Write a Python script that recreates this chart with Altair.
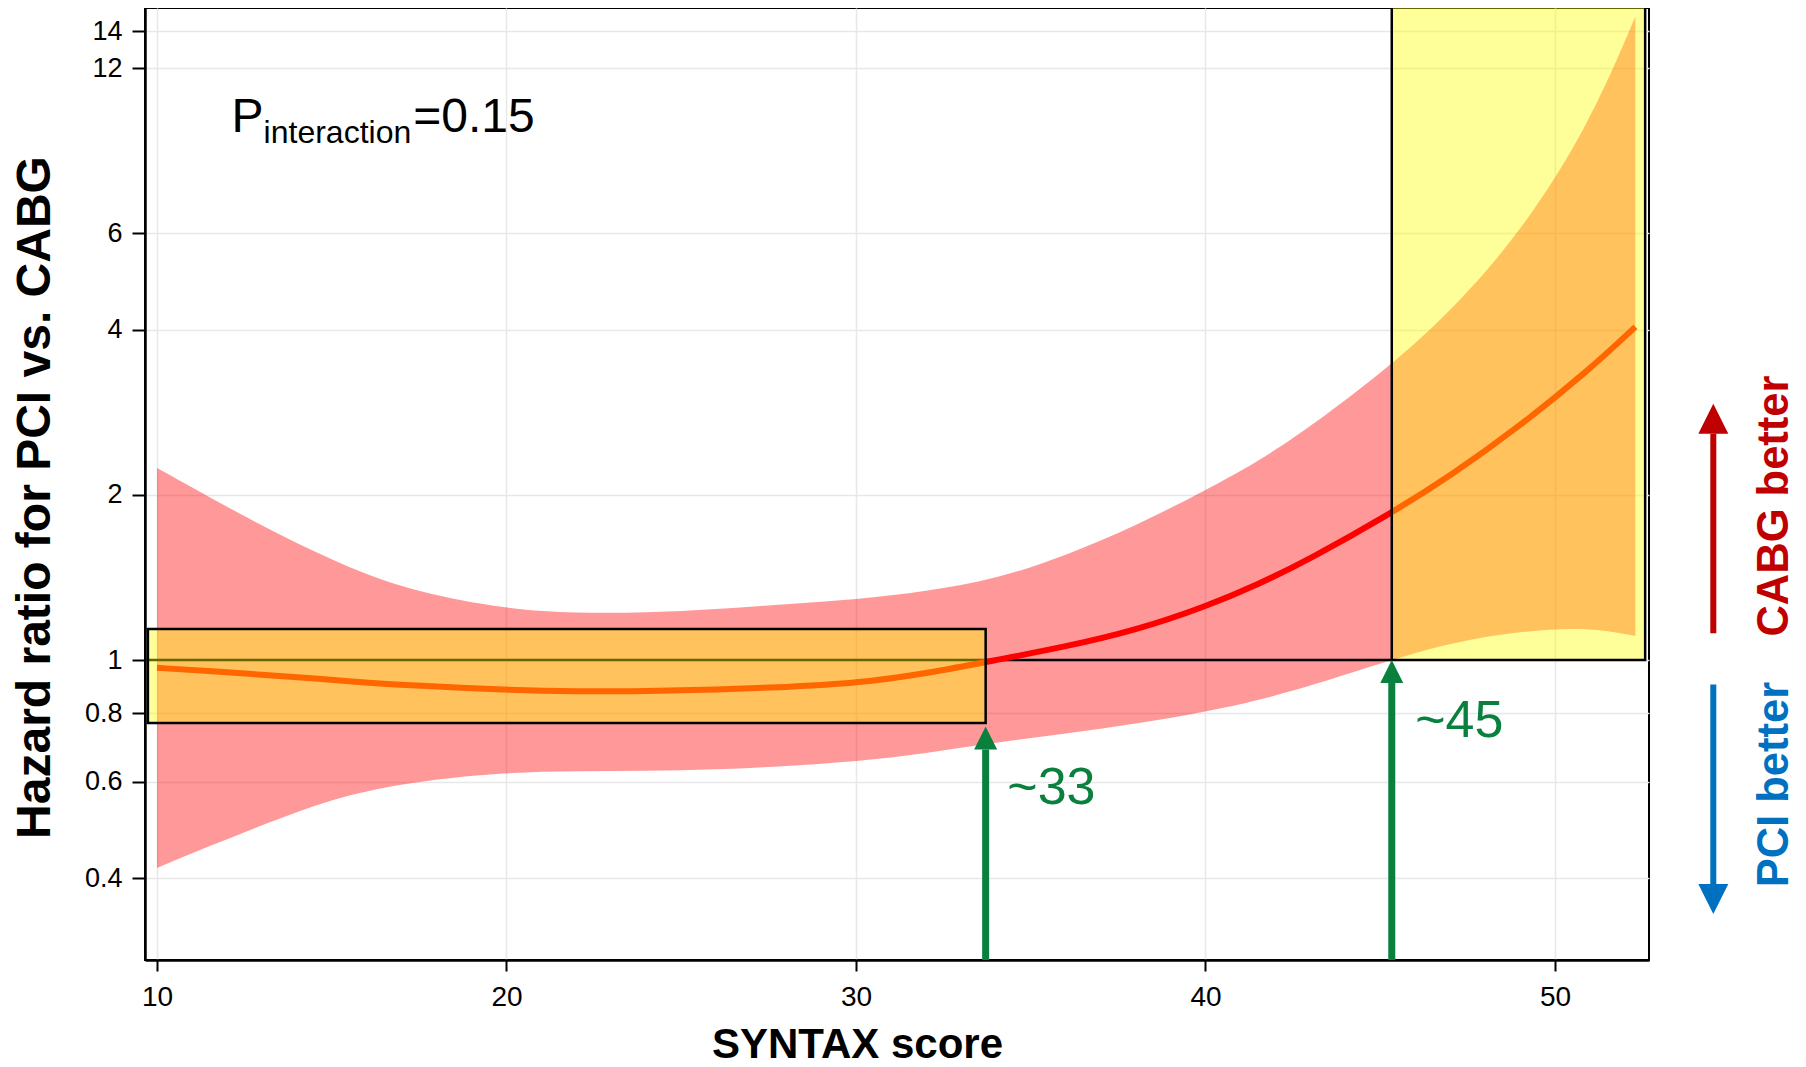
import altair as alt
import pandas as pd

# ---------------- data ----------------
syntax = [10, 11.5, 13.5, 15.5, 17.5, 20, 22, 24, 26, 28, 30, 32, 34, 36, 38, 40,
          41.5, 43, 45.3, 47, 49, 51, 52.3]
hr = [0.968, 0.955, 0.936, 0.915, 0.897, 0.882, 0.876, 0.878, 0.883, 0.893, 0.907,
      0.945, 1.0, 1.058, 1.133, 1.251, 1.373, 1.53, 1.85, 2.164, 2.67, 3.39, 4.05]
lower = [0.418, 0.458, 0.515, 0.571, 0.602, 0.624, 0.628, 0.628, 0.631, 0.641, 0.653,
         0.676, 0.708, 0.734, 0.765, 0.805, 0.844, 0.897, 1.0, 1.075, 1.13, 1.148, 1.106]
upper = [2.24, 1.98, 1.69, 1.47, 1.325, 1.239, 1.217, 1.220, 1.237, 1.265, 1.290,
         1.333, 1.405, 1.55, 1.755, 2.04, 2.30, 2.66, 3.44, 4.31, 5.98, 9.5, 14.9]

x_ticks = [10, 20, 30, 40, 50]
y_ticks = [0.4, 0.6, 0.8, 1, 2, 4, 6, 12, 14]
X_DOMAIN = [9.657, 52.69]
Y_DOMAIN = [0.284, 15.44]

# highlighted boxes
box_x1 = [9.74, 45.33]
box_x2 = [33.71, 52.58]
box_y1 = [0.768, 1.0]
box_y2 = [1.139, 15.6]

# HR = 1 reference segment
ref_x1 = [9.74]
ref_x2 = [45.33]
ref_y = [1.0]

# green cut-off arrows
cut_x = [33.71, 45.33]
cut_tip = [0.757, 1.0]
cut_base = [0.687, 0.909]
cut_labels = ["~33", "~45"]
cut_label_x = [34.33, 46.0]
cut_label_y = [0.546, 0.723]

# side arrows (CABG better / PCI better)
side_x = 54.53
red_start, red_base, red_tip = 1.119, 2.587, 2.933
blue_start, blue_base, blue_tip = 0.903, 0.3885, 0.3444
side_text_x = 56.68
side_texts = ["CABG better", "PCI better"]
side_text_y = [1.909, 0.593]

# P interaction annotation
p_texts = ["P", "interaction", "=0.15"]
p_x = [12.13, 13.05, 17.33]
p_y = [9.19, 8.77, 9.19]
p_size = [48, 32, 48]

FONT = "Liberation Sans"
GREEN = "#0a803e"
RED_DARK = "#c00000"
BLUE = "#0070c0"

xscale = alt.Scale(domain=X_DOMAIN, nice=False, zero=False)
yscale = alt.Scale(type="log", domain=Y_DOMAIN, nice=False)

x_axis = alt.Axis(values=x_ticks, title="SYNTAX score", titleFontSize=42,
                  titleFontWeight="bold", titleX=712, titleY=97.5,
                  titleBaseline="alphabetic", titleAlign="center",
                  labelFontSize=28, labelPadding=12, tickSize=11, format="d")
y_axis = alt.Axis(values=y_ticks, title="Hazard ratio for PCI vs. CABG",
                  titleFontSize=48, titleFontWeight="bold", titleAngle=270,
                  titleX=-96, titleY=489, titleBaseline="alphabetic",
                  titleAlign="center", labelFontSize=27, labelPadding=10,
                  tickSize=13, format="~g")


def X(field):
    return alt.X(field, type="quantitative", scale=xscale, axis=x_axis)


def Y(field):
    return alt.Y(field, type="quantitative", scale=yscale, axis=y_axis)


curve = pd.DataFrame({"syntax": syntax, "hr": hr, "lower": lower, "upper": upper})
boxes = pd.DataFrame({"x1": box_x1, "x2": box_x2, "y1": box_y1, "y2": box_y2})
ref = pd.DataFrame({"x1": ref_x1, "x2": ref_x2, "y": ref_y})
cuts = pd.DataFrame({"x": cut_x, "tip": cut_tip, "base": cut_base,
                     "bottom": [Y_DOMAIN[0]] * len(cut_x)})
cut_lab = pd.DataFrame({"x": cut_label_x, "y": cut_label_y, "t": cut_labels})
red_df = pd.DataFrame({"x": [side_x], "s": [red_start], "b": [red_base], "tip": [red_tip]})
blue_df = pd.DataFrame({"x": [side_x], "s": [blue_start], "b": [blue_base], "tip": [blue_tip]})
side_df = pd.DataFrame({"x": [side_text_x] * 2, "y": side_text_y, "t": side_texts,
                        "c": [RED_DARK, BLUE]})
p_df = pd.DataFrame({"x": p_x, "y": p_y, "t": p_texts, "s": p_size})

band = alt.Chart(curve).mark_area(color="#ff0000", opacity=0.4, interpolate="basis").encode(
    x=X("syntax"), y=Y("lower"), y2="upper",
)

ref_rule = alt.Chart(ref).mark_rule(color="black", strokeWidth=2.5).encode(
    x=X("x1"), x2="x2", y=Y("y"),
)

line = alt.Chart(curve).mark_line(color="#ff0000", strokeWidth=6, interpolate="basis").encode(
    x=X("syntax"), y=Y("hr"),
)

rects = alt.Chart(boxes).mark_rect(fill="#ffff00", fillOpacity=0.4, stroke="black",
                                   strokeWidth=2.5).encode(
    x=X("x1"), x2="x2", y=Y("y1"), y2="y2",
)

cut_shaft = alt.Chart(cuts).mark_rule(color=GREEN, strokeWidth=7).encode(
    x=X("x"), y=Y("bottom"), y2="base",
)
UP = "M0,-1L1,1L-1,1Z"
DOWN = "M0,1L1,-1L-1,-1Z"
cut_head = alt.Chart(cuts).mark_point(shape=UP, size=529, filled=True, color=GREEN,
                                      opacity=1, yOffset=11.5).encode(
    x=X("x"), y=Y("tip"),
)
cut_text = alt.Chart(cut_lab).mark_text(font=FONT, fontSize=52, color=GREEN, align="left",
                                        baseline="alphabetic").encode(
    x=X("x"), y=Y("y"), text="t:N",
)

red_shaft = alt.Chart(red_df).mark_rule(color=RED_DARK, strokeWidth=6).encode(
    x=X("x"), y=Y("s"), y2="b",
)
red_head = alt.Chart(red_df).mark_point(shape=UP, size=900, filled=True, color=RED_DARK,
                                        opacity=1, yOffset=15).encode(
    x=X("x"), y=Y("tip"),
)
blue_shaft = alt.Chart(blue_df).mark_rule(color=BLUE, strokeWidth=6).encode(
    x=X("x"), y=Y("s"), y2="b",
)
blue_head = alt.Chart(blue_df).mark_point(shape=DOWN, size=900, filled=True, color=BLUE,
                                          opacity=1, yOffset=-15).encode(
    x=X("x"), y=Y("tip"),
)
side_text = alt.Chart(side_df).mark_text(font=FONT, fontSize=43.5, fontWeight="bold", angle=270,
                                         align="center", baseline="alphabetic").encode(
    x=X("x"), y=Y("y"), text="t:N",
    color=alt.Color("c:N", scale=None),
)

p_text = alt.Chart(p_df).mark_text(font=FONT, color="black", align="left",
                                   baseline="alphabetic").encode(
    x=X("x"), y=Y("y"), text="t:N",
    size=alt.Size("s:Q", scale=None),
)

chart = alt.layer(
    band, ref_rule, line, rects, cut_shaft, cut_head, cut_text,
    red_shaft, red_head, blue_shaft, blue_head, side_text, p_text,
).properties(
    width=1504, height=952,
    autosize=alt.AutoSizeParams(type="none"),
    padding={"left": 137, "top": 0, "right": 149, "bottom": 107},
    background="white",
).configure_view(
    stroke="black", strokeWidth=2,
).configure_axis(
    grid=True, gridColor="#e8e8e8", gridWidth=1.5,
    domainColor="black", domainWidth=2.5,
    tickColor="black", tickWidth=2,
    labelColor="black", labelFont=FONT, titleFont=FONT, titleColor="black",
)

chart.save("out.html", embed_options={"renderer": "svg", "actions": False})
